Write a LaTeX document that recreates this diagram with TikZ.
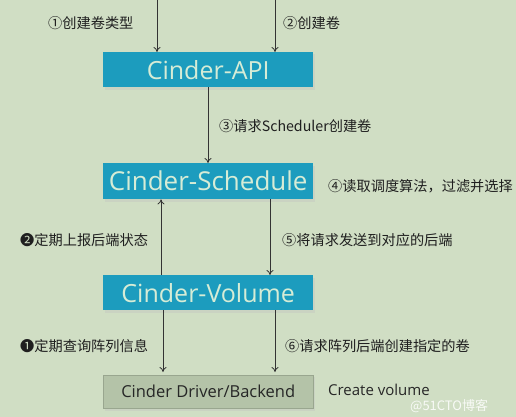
\documentclass[tikz,border=0pt]{standalone}
\usepackage{fontspec}
\setmainfont{Open Sans}
\newfontfamily\cjk{Noto Sans CJK SC}
\usetikzlibrary{arrows.meta}
\definecolor{bg}{HTML}{D0DEC4}
\definecolor{teal}{HTML}{1C9CBE}
\definecolor{boxtext}{HTML}{D6ECD6}
\definecolor{gbox}{HTML}{B4C3A8}
\definecolor{ink}{HTML}{333333}
\begin{document}
\begin{tikzpicture}[x=1pt,y=-1pt,
  tealbox/.style={fill=teal,text=boxtext,minimum width=210pt,inner sep=0pt,anchor=north west,font=\fontsize{25}{28}\selectfont},
  graybox/.style={fill=gbox,draw=gbox!85!black,line width=0.4pt,text=black!85,minimum width=210pt,inner sep=0pt,anchor=north west,font=\fontsize{16.5}{19}\selectfont},
  shadowbox/.style={fill=black!25,opacity=0.35,draw=none},
  lbl/.style={font=\cjk\fontsize{14.2}{16}\selectfont,text=black!88,inner sep=0pt,anchor=west},
  arr/.style={draw=ink,line width=0.8pt,-{To[length=5pt,width=7pt]}}]
\useasboundingbox[fill=bg] (0,0) rectangle (516,417);
% shadows
\fill[shadowbox] (105,54) rectangle (315,90);
\fill[shadowbox] (105,166) rectangle (315,202);
\fill[shadowbox] (105,278) rectangle (315,313);
\fill[shadowbox] (105,377) rectangle (315,411);
% boxes
\node[tealbox,minimum height=35pt] (api) at (103,52) {Cinder-API};
\node[tealbox,minimum height=36pt,font=\fontsize{26}{29}\selectfont] (sch) at (103,163) {Cinder-Schedule};
\node[tealbox,minimum height=35pt] (vol) at (103,275) {Cinder-Volume};
\node[graybox,minimum height=33pt] (drv) at (103,375) {Cinder Driver/Backend};
% free ends
\coordinate (s1) at (157,0);
\coordinate (s2) at (275,0);
% arrows
\draw[arr] (s1) -- (s1 |- api.north);
\draw[arr] (s2) -- (s2 |- api.north);
\draw[arr] (api.south -| 208,0) -- (sch.north -| 208,0);
\draw[arr] (vol.north -| 161,0) -- (sch.south -| 161,0);
\draw[arr] (sch.south -| 270,0) -- (vol.north -| 270,0);
\draw[arr] (vol.south -| 163,0) -- ([yshift=3pt]drv.north -| 163,0);
\draw[arr] (vol.south -| 275,0) -- ([yshift=3pt]drv.north -| 275,0);
% labels
\node[lbl] (l1) at (48,23) {①创建卷类型};
\node[lbl] (l2) at (283,23) {②创建卷};
\node[lbl] (l3) at (219,126) {③请求Scheduler创建卷};
\node[lbl] (l4) at (328,186) {④读取调度算法，过滤并选择};
\node[lbl] (lb2) at (20,240) {❷定期上报后端状态};
\node[lbl] (l5) at (282,240) {⑤将请求发送到对应的后端};
\node[lbl] (lb1) at (20,346) {❶定期查询阵列信息};
\node[lbl] (l6) at (285,346) {⑥请求阵列后端创建指定的卷};
\node[inner sep=0pt,anchor=west,text=black!85,font=\fontsize{15}{17}\selectfont] (cv) at (328,390) {Create volume};
\node[inner sep=0pt,anchor=west,text=white,opacity=0.85,font=\cjk\fontsize{13}{15}\selectfont] (wm) at (410,406) {@51CTO博客};
\end{tikzpicture}
\end{document}
